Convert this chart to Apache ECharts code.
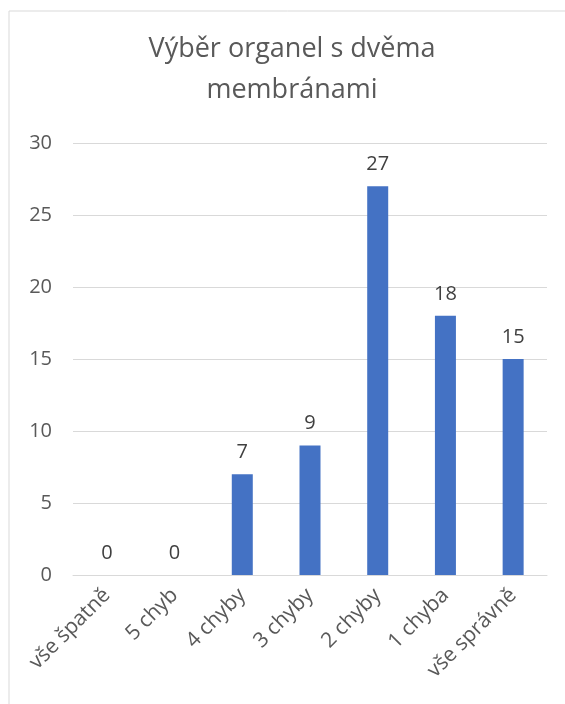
<!DOCTYPE html>
<html>
<head>
<meta charset="utf-8">
<script src="https://cdn.jsdelivr.net/npm/echarts@6/dist/echarts.min.js"></script>
<style>
  html, body { margin: 0; padding: 0; background: #fff; }
  #chart { width: 565px; height: 704px; }
</style>
</head>
<body>
<div id="chart"></div>
<script>
// Počet chyb při výběru organel s dvěma membránami
const categories = ['vše špatně', '5 chyb', '4 chyby', '3 chyby', '2 chyby', '1 chyba', 'vše správně'];
const counts = [0, 0, 7, 9, 27, 18, 15];
const titleLines = ['Výběr organel s dvěma', 'membránami'];

const chart = echarts.init(document.getElementById('chart'), null, { renderer: 'canvas' });
const font = '"Open Sans", "Noto Sans", sans-serif';

chart.setOption({
  animation: false,
  backgroundColor: '#ffffff',
  graphic: [
    {
      type: 'rect',
      shape: { x: 9, y: 11, width: 600, height: 720 },
      style: { fill: 'none', stroke: '#d9d9d9', lineWidth: 1 },
      silent: true
    },
    {
      type: 'text',
      x: 292,
      y: 29,
      style: {
        text: titleLines.join('\n'),
        font: '27px ' + font,
        fill: '#595959',
        textAlign: 'center',
        textVerticalAlign: 'top',
        lineHeight: 41
      }
    }
  ],
  grid: { left: 73, right: 18, top: 143, bottom: 129, containLabel: false },
  xAxis: {
    type: 'category',
    data: categories,
    axisLine: { show: true, lineStyle: { color: '#d9d9d9', width: 1 } },
    axisTick: { show: false },
    axisLabel: {
      rotate: 45,
      interval: 0,
      margin: 17,
      color: '#595959',
      fontSize: 21,
      fontFamily: font
    }
  },
  yAxis: {
    type: 'value',
    min: 0,
    max: 30,
    interval: 5,
    axisLine: { show: false },
    axisTick: { show: false },
    splitLine: { lineStyle: { color: '#d9d9d9', width: 1 } },
    axisLabel: {
      color: '#595959',
      fontSize: 20,
      fontFamily: font,
      margin: 21
    }
  },
  series: [{
    type: 'bar',
    data: counts,
    barWidth: 21,
    itemStyle: { color: '#4472c4' },
    label: {
      show: true,
      position: 'top',
      distance: 12,
      color: '#404040',
      fontSize: 20,
      fontFamily: font
    }
  }]
});
</script>
</body>
</html>
